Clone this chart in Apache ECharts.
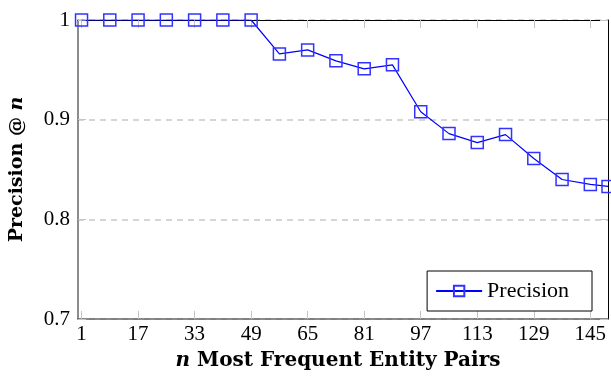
<!DOCTYPE html>
<html>
<head>
<meta charset="utf-8">
<script src="https://cdn.jsdelivr.net/npm/echarts@6/dist/echarts.min.js"></script>
<style>
  html, body { margin: 0; padding: 0; background: #fff; }
  #chart { width: 611px; height: 376px; }
</style>
</head>
<body>
<div id="chart"></div>
<script>
// n values (x) and precision @ n (y)
var nValues = [1, 9, 17, 25, 33, 41, 49, 57, 65, 73, 81, 89, 97, 105, 113, 121, 129, 137, 145, 150];
var precision = [1, 1, 1, 1, 1, 1, 1, 0.966, 0.970, 0.959, 0.951, 0.955, 0.908, 0.886, 0.877, 0.885, 0.861, 0.840, 0.835, 0.833];
var xTicks = [1, 17, 33, 49, 65, 81, 97, 113, 129, 145];

var serif = '"Liberation Serif", "DejaVu Serif", serif';
var boldSerif = '"DejaVu Serif", serif';
var tickGray = '#c4c4c4';

var points = nValues.map(function (n, i) { return [n, precision[i]]; });

var myChart = echarts.init(document.getElementById('chart'));
var option = {
    animation: false,
    grid: { left: 78, right: 3, top: 20, bottom: 56 },
    legend: {
        right: 19,
        bottom: 65,
        orient: 'horizontal',
        padding: [9, 23, 9, 8],
        itemWidth: 46,
        itemHeight: 13,
        backgroundColor: '#fff',
        borderColor: '#000',
        borderWidth: 1,
        borderRadius: 0,
        textStyle: { fontFamily: serif, fontSize: 22, color: '#000' },
        data: ['Precision']
    },
    xAxis: [
        {
            type: 'value',
            min: 0,
            max: 150,
            position: 'bottom',
            name: '{i|n} Most Frequent Entity Pairs',
            nameLocation: 'middle',
            nameGap: 32,
            nameTextStyle: {
                fontFamily: boldSerif, fontWeight: 'bold', fontSize: 20, color: '#000',
                padding: [0, 10, 0, 0],
                rich: { i: { fontFamily: boldSerif, fontWeight: 'bold', fontStyle: 'italic', fontSize: 20, color: '#000' } }
            },
            axisLine: { show: true, onZero: false, lineStyle: { color: '#666', width: 1.5 } },
            axisTick: { show: true, inside: true, length: 8, customValues: xTicks, lineStyle: { color: tickGray, width: 1 } },
            axisLabel: { customValues: xTicks, margin: 5, fontFamily: serif, fontSize: 21, color: '#000' },
            splitLine: { show: false }
        },
        {
            type: 'value',
            min: 0,
            max: 150,
            position: 'top',
            axisLine: { show: true, onZero: false, lineStyle: { color: '#000', width: 1 } },
            axisTick: { show: true, inside: true, length: 8, customValues: xTicks, lineStyle: { color: tickGray, width: 1 } },
            axisLabel: { show: false },
            splitLine: { show: false }
        }
    ],
    yAxis: [
        {
            type: 'value',
            min: 0.7,
            max: 1,
            interval: 0.1,
            position: 'left',
            name: 'Precision @ {i|n}',
            nameLocation: 'middle',
            nameGap: 51,
            nameTextStyle: {
                fontFamily: boldSerif, fontWeight: 'bold', fontSize: 19, color: '#000',
                rich: { i: { fontFamily: boldSerif, fontWeight: 'bold', fontStyle: 'italic', fontSize: 19, color: '#000' } }
            },
            axisLine: { show: true, onZero: false, lineStyle: { color: '#666', width: 1.5 } },
            axisTick: { show: true, inside: true, length: 8, lineStyle: { color: tickGray, width: 1 } },
            axisLabel: {
                margin: 8, fontFamily: serif, fontSize: 21, color: '#000',
                formatter: function (v) { return Math.abs(v - 1) < 1e-9 ? '1' : v.toFixed(1); }
            },
            splitLine: { show: true, lineStyle: { color: '#c8c8c8', width: 1.5, type: [6, 5] } }
        },
        {
            type: 'value',
            min: 0.7,
            max: 1,
            interval: 0.1,
            position: 'right',
            axisLine: { show: true, onZero: false, lineStyle: { color: '#000', width: 1 } },
            axisTick: { show: true, inside: true, length: 8, lineStyle: { color: tickGray, width: 1 } },
            axisLabel: { show: false },
            splitLine: { show: false }
        }
    ],
    series: [
        {
            name: 'Precision',
            type: 'line',
            xAxisIndex: 0,
            yAxisIndex: 0,
            data: points,
            symbol: 'rect',
            symbolSize: 12,
            lineStyle: { color: '#0000ff', width: 1.2 },
            itemStyle: { color: 'rgba(255,255,255,0)', borderColor: '#3333ff', borderWidth: 1.5 },
            z: 5
        }
    ]
};
myChart.setOption(option);
</script>
</body>
</html>
